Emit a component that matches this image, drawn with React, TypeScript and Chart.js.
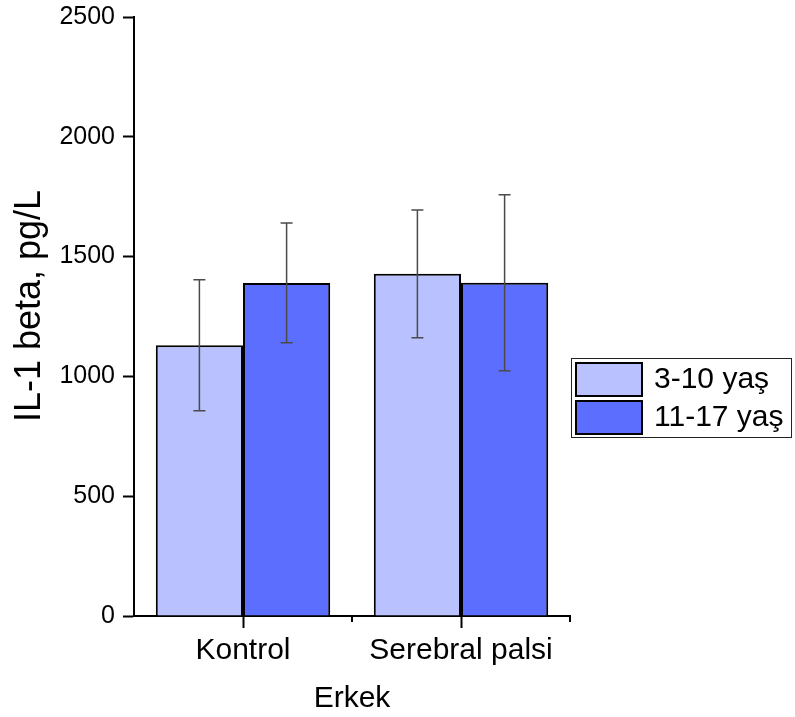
import React, { useEffect, useRef } from "react";
import { Chart, registerables } from "chart.js";

Chart.register(...registerables);

// ---- data ----
const categories = ["Kontrol", "Serebral palsi"];
const seriesLabels = ["3-10 yaş", "11-17 yaş"];
const youngValues = [1130, 1428];
const youngErrors = [273, 267];
const oldValues = [1390, 1391];
const oldErrors = [250, 367];
const yTickValues = [0, 500, 1000, 1500, 2000, 2500];
const xTitle = "Erkek";
const yTitle = "IL-1 beta, pg/L";

const FONT = "'Liberation Sans', Arial, Helvetica, sans-serif";
const LIGHT = "#b9c1fe";
const DARK = "#5b6efe";

const errorBarPlugin = {
  id: "errorBars",
  afterDatasetsDraw(chart: any) {
    const { ctx } = chart;
    const yScale = chart.scales.y;
    chart.data.datasets.forEach((ds: any, di: number) => {
      const meta = chart.getDatasetMeta(di);
      const errs: number[] = ds.errors || [];
      meta.data.forEach((el: any, i: number) => {
        const v = ds.data[i];
        const e = errs[i];
        if (e == null) return;
        const x = el.x;
        const yTop = yScale.getPixelForValue(v + e);
        const yBot = yScale.getPixelForValue(v - e);
        ctx.save();
        ctx.strokeStyle = "#4a4a4a";
        ctx.lineWidth = 1.5;
        ctx.beginPath();
        ctx.moveTo(x, yTop);
        ctx.lineTo(x, yBot);
        ctx.moveTo(x - 6, yTop);
        ctx.lineTo(x + 6, yTop);
        ctx.moveTo(x - 6, yBot);
        ctx.lineTo(x + 6, yBot);
        ctx.stroke();
        ctx.restore();
      });
    });
  },
};

const minorTickPlugin = {
  id: "minorTicks",
  afterDraw(chart: any) {
    const { ctx, chartArea } = chart;
    const xScale = chart.scales.x;
    ctx.save();
    ctx.strokeStyle = "#000";
    ctx.lineWidth = 2;
    ctx.beginPath();
    for (let i = 0; i < categories.length; i++) {
      const x = xScale.getPixelForValue(i + 0.5);
      ctx.moveTo(x, chartArea.bottom);
      ctx.lineTo(x, chartArea.bottom + 6);
    }
    ctx.stroke();
    ctx.restore();
  },
};

const yTitlePlugin = {
  id: "yTitle",
  afterDraw(chart: any) {
    const { ctx } = chart;
    ctx.save();
    ctx.translate(30, 306);
    ctx.rotate(-Math.PI / 2);
    ctx.fillStyle = "#000";
    ctx.font = `36px ${FONT}`;
    ctx.textAlign = "center";
    ctx.textBaseline = "middle";
    ctx.fillText(yTitle, 0, 0);
    ctx.restore();
  },
};

const boxLegendPlugin = {
  id: "boxLegend",
  afterDraw(chart: any) {
    const { ctx, chartArea } = chart;
    const left = chartArea.right + 1;
    const top = 358;
    const width = 221;
    const height = 80;
    ctx.save();
    ctx.fillStyle = "#fff";
    ctx.fillRect(left, top, width, height);
    ctx.strokeStyle = "#222";
    ctx.lineWidth = 1;
    ctx.strokeRect(left + 0.5, top + 0.5, width - 1, height - 1);
    chart.data.datasets.forEach((ds: any, i: number) => {
      const sy = top + 4 + i * 38;
      ctx.fillStyle = ds.backgroundColor;
      ctx.fillRect(left + 4, sy, 68, 35);
      ctx.strokeStyle = "#000";
      ctx.lineWidth = 2;
      ctx.strokeRect(left + 5, sy + 1, 66, 33);
      ctx.fillStyle = "#000";
      ctx.font = `30px ${FONT}`;
      ctx.textBaseline = "middle";
      ctx.textAlign = "left";
      ctx.fillText(ds.label, left + 83, sy + 18);
    });
    ctx.restore();
  },
};

export default function App() {
  const canvasRef = useRef<HTMLCanvasElement | null>(null);

  useEffect(() => {
    if (!canvasRef.current) return;
    const chart = new Chart(canvasRef.current, {
      type: "bar",
      data: {
        labels: categories,
        datasets: [
          {
            label: seriesLabels[0],
            data: youngValues,
            errors: youngErrors,
            backgroundColor: LIGHT,
            borderColor: "#000",
            borderWidth: 2,
          } as any,
          {
            label: seriesLabels[1],
            data: oldValues,
            errors: oldErrors,
            backgroundColor: DARK,
            borderColor: "#000",
            borderWidth: 2,
          } as any,
        ],
      },
      options: {
        animation: false,
        responsive: true,
        maintainAspectRatio: false,
        datasets: { bar: { barPercentage: 1.0, categoryPercentage: 0.8 } },
        layout: { padding: { top: 17, right: 225, bottom: 0, left: 0 } },
        plugins: {
          legend: { display: false },
          tooltip: { enabled: false },
        },
        scales: {
          x: {
            offset: true,
            grid: {
              offset: false,
              drawOnChartArea: false,
              drawTicks: true,
              tickLength: 12,
              tickWidth: 2,
              tickColor: "#000",
            },
            border: { color: "#000", width: 2 },
            ticks: {
              color: "#000",
              font: { size: 30, family: FONT },
              padding: 5,
            },
            title: {
              display: true,
              text: xTitle,
              color: "#000",
              font: { size: 30, family: FONT },
              padding: { top: 4, bottom: 0 },
            },
            afterFit: (s: any) => {
              s.height = 101;
              s.paddingLeft = 0;
              s.paddingRight = 0;
            },
          },
          y: {
            min: 0,
            max: 2500,
            afterBuildTicks: (s: any) => {
              s.ticks = yTickValues.map((v) => ({ value: v }));
            },
            grid: {
              drawOnChartArea: false,
              drawTicks: true,
              tickLength: 11,
              tickWidth: 2,
              tickColor: "#000",
            },
            border: { color: "#000", width: 2 },
            ticks: {
              color: "#000",
              font: { size: 25, family: FONT },
              padding: 8,
              callback: (v: any) => String(v),
            },
            title: { display: false },
            afterFit: (s: any) => {
              s.width = 134;
              s.paddingTop = 0;
              s.paddingBottom = 0;
            },
          },
        },
      } as any,
      plugins: [errorBarPlugin, minorTickPlugin, yTitlePlugin, boxLegendPlugin],
    });
    return () => chart.destroy();
  }, []);

  return (
    <div
      style={{
        position: "fixed",
        left: 0,
        top: 0,
        width: "795px",
        height: "717px",
        background: "#fff",
      }}
    >
      <canvas ref={canvasRef} />
    </div>
  );
}
